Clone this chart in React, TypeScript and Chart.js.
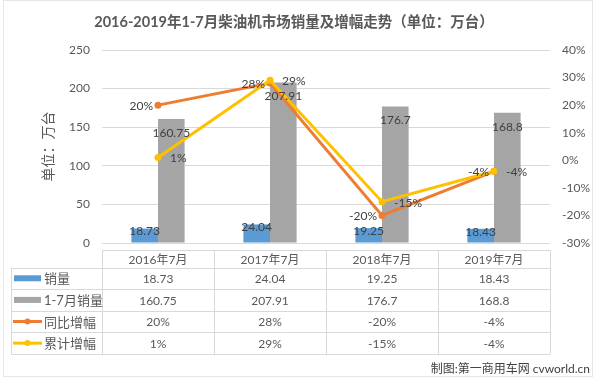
import React, { useEffect, useRef } from "react";
import { Chart, registerables } from "chart.js";
Chart.register(...registerables);

const categories = ["2016年7月", "2017年7月", "2018年7月", "2019年7月"];
const salesJuly = [18.73, 24.04, 19.25, 18.43];
const salesJanJul = [160.75, 207.91, 176.7, 168.8];
const yoyGrowth = [20, 28, -20, -4];
const cumGrowth = [1, 29, -15, -4];
const seriesNames = ["销量", "1-7月销量", "同比增幅", "累计增幅"];
const chartTitle = "2016-2019年1-7月柴油机市场销量及增幅走势（单位：万台）";
const axisTitle = "单位：万台";
const footerText = "制图:第一商用车网 cvworld.cn";

const COLORS = ["#5B9BD5", "#A5A5A5", "#ED7D31", "#FFC000"];
const FF = "Lato, 'Noto Sans CJK SC', sans-serif";
const TEXT = "#595959";
const LINE = "#D9D9D9";

const pct = (v: number) => `${v}%`;
const num = (v: number) => `${v}`;

const tablePlugin = {
  id: "dataTable",
  afterDatasetsDraw(chart: any) {
    const ctx = chart.ctx;
    ctx.save();
    ctx.font = `12px ${FF}`;
    ctx.fillStyle = "#404040";
    ctx.textBaseline = "middle";
    ctx.textAlign = "center";
    const m0 = chart.getDatasetMeta(0);
    const m1 = chart.getDatasetMeta(1);
    m0.data.forEach((el: any, i: number) => ctx.fillText(num(salesJuly[i]), el.x, el.y + 3));
    m1.data.forEach((el: any, i: number) => ctx.fillText(num(salesJanJul[i]), el.x, el.y + 14));
    const m2 = chart.getDatasetMeta(2);
    ctx.textAlign = "right";
    m2.data.forEach((el: any, i: number) => ctx.fillText(pct(yoyGrowth[i]), el.x - 5, el.y + 1));
    const m3 = chart.getDatasetMeta(3);
    ctx.textAlign = "left";
    m3.data.forEach((el: any, i: number) => ctx.fillText(pct(cumGrowth[i]), el.x + 12, el.y + 1));
    ctx.restore();
  },
  afterDraw(chart: any) {
    const ctx = chart.ctx;
    const xs = chart.scales.x;
    const area = chart.chartArea;
    const half = (xs.getPixelForValue(1) - xs.getPixelForValue(0)) / 2;
    const bounds = categories.map((_, i) => xs.getPixelForValue(i) - half);
    bounds.push(xs.getPixelForValue(categories.length - 1) + half);
    const headTop = area.bottom + 7;
    const headBot = headTop + 17.5;
    const rowH = 21.6;
    const tableLeft = 11;
    const rows = [
      salesJuly.map(num),
      salesJanJul.map(num),
      yoyGrowth.map(pct),
      cumGrowth.map(pct),
    ];
    const tableBot = headBot + rowH * rows.length;
    ctx.save();
    // title
    ctx.font = `bold 14.5px ${FF}`;
    ctx.fillStyle = TEXT;
    ctx.textAlign = "center";
    ctx.textBaseline = "middle";
    ctx.fillText(chartTitle, 294, 22);

    ctx.strokeStyle = LINE;
    ctx.lineWidth = 1;
    const r = (v: number) => Math.round(v) + 0.5;
    ctx.beginPath();
    ctx.moveTo(bounds[0], r(headTop));
    ctx.lineTo(bounds[bounds.length - 1], r(headTop));
    for (let k = 0; k <= rows.length; k++) {
      const y = r(headBot + rowH * k);
      ctx.moveTo(tableLeft, y);
      ctx.lineTo(bounds[bounds.length - 1], y);
    }
    bounds.forEach((b) => {
      ctx.moveTo(r(b), headTop);
      ctx.lineTo(r(b), tableBot);
    });
    ctx.moveTo(r(tableLeft), headBot);
    ctx.lineTo(r(tableLeft), tableBot);
    ctx.stroke();

    ctx.font = `12px ${FF}`;
    ctx.fillStyle = TEXT;
    ctx.textBaseline = "middle";
    ctx.textAlign = "center";
    categories.forEach((c, i) => ctx.fillText(c, xs.getPixelForValue(i), (headTop + headBot) / 2 + 1));
    rows.forEach((row, k) => {
      const yc = headBot + rowH * k + rowH / 2 + 1;
      row.forEach((t, i) => ctx.fillText(t, xs.getPixelForValue(i), yc));
    });
    ctx.textAlign = "left";
    ctx.font = `13px ${FF}`;
    seriesNames.forEach((name, k) => {
      const yc = headBot + rowH * k + rowH / 2;
      if (k < 2) {
        ctx.fillStyle = COLORS[k];
        ctx.fillRect(14, yc - 3, 27, 6);
      } else {
        ctx.strokeStyle = COLORS[k];
        ctx.lineWidth = 3;
        ctx.beginPath();
        ctx.moveTo(13, yc);
        ctx.lineTo(42, yc);
        ctx.stroke();
        ctx.fillStyle = COLORS[k];
        ctx.beginPath();
        ctx.arc(27.5, yc, 3, 0, Math.PI * 2);
        ctx.fill();
      }
      ctx.fillStyle = TEXT;
      ctx.fillText(name, 44, yc + 1);
    });
    ctx.textAlign = "right";
    ctx.fillStyle = "#404040";
    ctx.font = `12px ${FF}`;
    ctx.fillText(footerText, 590, 369);
    ctx.strokeStyle = "#E6E6E6";
    ctx.lineWidth = 1;
    ctx.strokeRect(3.5, 0.5, 589, 376);
    ctx.restore();
  },
};

export default function App() {
  const ref = useRef<HTMLCanvasElement>(null);
  useEffect(() => {
    if (!ref.current) return;
    const chart = new Chart(ref.current, {
      type: "bar",
      data: {
        labels: categories,
        datasets: [
          {
            type: "bar",
            label: seriesNames[0],
            data: salesJuly,
            backgroundColor: COLORS[0],
            yAxisID: "y",
            order: 2,
            barPercentage: 1,
            categoryPercentage: 0.475,
          },
          {
            type: "bar",
            label: seriesNames[1],
            data: salesJanJul,
            backgroundColor: COLORS[1],
            yAxisID: "y",
            order: 3,
            barPercentage: 1,
            categoryPercentage: 0.475,
          },
          {
            type: "line",
            label: seriesNames[2],
            data: yoyGrowth,
            borderColor: COLORS[2],
            backgroundColor: COLORS[2],
            borderWidth: 3,
            pointRadius: 3.5,
            pointBorderWidth: 0,
            pointBackgroundColor: COLORS[2],
            yAxisID: "y1",
            order: 1,
            tension: 0,
          },
          {
            type: "line",
            label: seriesNames[3],
            data: cumGrowth,
            borderColor: COLORS[3],
            backgroundColor: COLORS[3],
            borderWidth: 3,
            pointRadius: 3.5,
            pointBorderWidth: 0,
            pointBackgroundColor: COLORS[3],
            yAxisID: "y1",
            order: 0,
            tension: 0,
          },
        ] as any,
      },
      options: {
        responsive: false,
        animation: false,
        devicePixelRatio: 1,
        layout: { padding: { top: 50, left: 0, right: 0, bottom: 138 } },
        plugins: {
          legend: { display: false },
          tooltip: { enabled: false },
          title: { display: false },
        },
        scales: {
          x: { display: false, offset: true },
          y: {
            position: "left",
            min: 0,
            max: 250,
            ticks: { stepSize: 50, color: TEXT, font: { size: 12, family: FF }, padding: 12 },
            grid: { color: LINE, drawTicks: false },
            border: { display: false },
            title: {
              display: true,
              text: axisTitle,
              color: TEXT,
              font: { size: 14, family: FF },
              padding: { top: 40, bottom: 0 },
            },
            afterFit: (s: any) => {
              s.width = 102;
            },
          },
          y1: {
            position: "right",
            min: -30,
            max: 40,
            ticks: { stepSize: 10, color: TEXT, font: { size: 12, family: FF }, padding: 12, callback: (v: any) => `${v}%` },
            grid: { display: false, drawTicks: false },
            border: { display: false },
            afterFit: (s: any) => {
              s.width = 50;
            },
          },
        },
      } as any,
      plugins: [tablePlugin],
    });
    return () => chart.destroy();
  }, []);
  return (
    <div style={{ position: "absolute", left: 0, top: 0, width: 600, height: 381, background: "#fff" }}>
      <canvas ref={ref} width={600} height={381} />
    </div>
  );
}
